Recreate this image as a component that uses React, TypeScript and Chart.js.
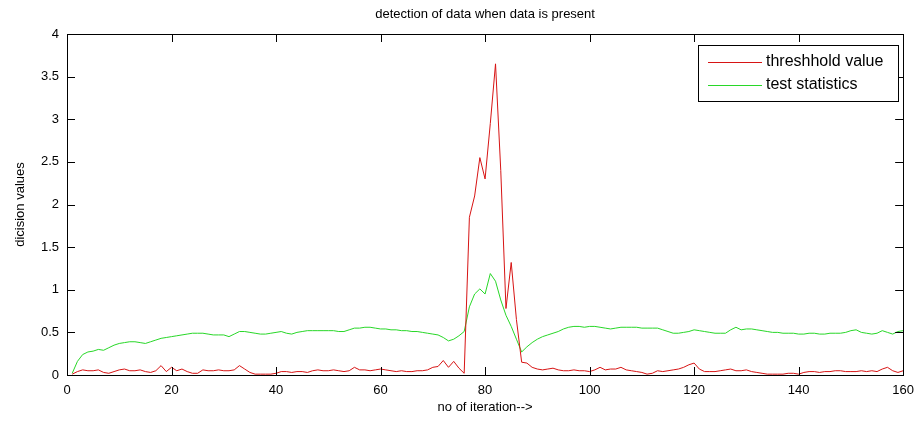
import React, { useEffect, useRef } from 'react';
import { Chart, registerables } from 'chart.js';

Chart.register(...registerables);

// ---- data ----
const iterations: number[] = Array.from({ length: 160 }, (_, k) => k + 1);

const thresholdValues: number[] = [
  0.01, 0.04, 0.06, 0.05, 0.05, 0.06, 0.03, 0.02, 0.04, 0.06,
  0.07, 0.05, 0.05, 0.06, 0.04, 0.03, 0.05, 0.11, 0.04, 0.09,
  0.05, 0.07, 0.04, 0.02, 0.02, 0.06, 0.05, 0.05, 0.06, 0.05,
  0.05, 0.06, 0.11, 0.07, 0.03, 0.01, 0.01, 0.01, 0.01, 0.02,
  0.04, 0.04, 0.03, 0.04, 0.04, 0.03, 0.05, 0.06, 0.05, 0.05,
  0.06, 0.05, 0.04, 0.05, 0.09, 0.06, 0.06, 0.05, 0.06, 0.07,
  0.06, 0.05, 0.04, 0.05, 0.04, 0.04, 0.05, 0.05, 0.06, 0.09,
  0.10, 0.17, 0.09, 0.16, 0.08, 0.02, 1.85, 2.10, 2.55, 2.30,
  2.95, 3.65, 2.40, 0.78, 1.32, 0.65, 0.15, 0.14, 0.09, 0.07,
  0.06, 0.07, 0.08, 0.06, 0.05, 0.05, 0.06, 0.05, 0.05, 0.04,
  0.06, 0.09, 0.06, 0.07, 0.07, 0.09, 0.06, 0.05, 0.04, 0.03,
  0.01, 0.02, 0.05, 0.04, 0.05, 0.06, 0.07, 0.09, 0.12, 0.14,
  0.07, 0.04, 0.04, 0.04, 0.05, 0.06, 0.07, 0.05, 0.05, 0.06,
  0.04, 0.03, 0.02, 0.01, 0.01, 0.01, 0.01, 0.02, 0.02, 0.01,
  0.03, 0.04, 0.04, 0.03, 0.04, 0.04, 0.05, 0.05, 0.04, 0.04,
  0.04, 0.05, 0.04, 0.05, 0.04, 0.07, 0.09, 0.05, 0.03, 0.05,
];

const testStatistics: number[] = [
  0.02, 0.16, 0.24, 0.27, 0.28, 0.30, 0.29, 0.32, 0.35, 0.37,
  0.38, 0.39, 0.39, 0.38, 0.37, 0.39, 0.41, 0.43, 0.44, 0.45,
  0.46, 0.47, 0.48, 0.49, 0.49, 0.49, 0.48, 0.47, 0.47, 0.47,
  0.45, 0.48, 0.51, 0.51, 0.50, 0.49, 0.48, 0.48, 0.49, 0.50,
  0.51, 0.49, 0.48, 0.50, 0.51, 0.52, 0.52, 0.52, 0.52, 0.52,
  0.52, 0.51, 0.51, 0.53, 0.55, 0.55, 0.56, 0.56, 0.55, 0.54,
  0.54, 0.53, 0.53, 0.52, 0.52, 0.51, 0.51, 0.50, 0.49, 0.48,
  0.47, 0.44, 0.40, 0.42, 0.46, 0.51, 0.80, 0.95, 1.01, 0.95,
  1.19, 1.10, 0.88, 0.70, 0.57, 0.42, 0.27, 0.33, 0.38, 0.42,
  0.45, 0.47, 0.49, 0.51, 0.54, 0.56, 0.57, 0.57, 0.56, 0.57,
  0.57, 0.56, 0.55, 0.54, 0.55, 0.56, 0.56, 0.56, 0.56, 0.55,
  0.55, 0.55, 0.55, 0.53, 0.51, 0.49, 0.49, 0.50, 0.51, 0.53,
  0.52, 0.51, 0.50, 0.49, 0.49, 0.49, 0.53, 0.56, 0.53, 0.54,
  0.54, 0.53, 0.52, 0.51, 0.50, 0.50, 0.49, 0.49, 0.49, 0.48,
  0.48, 0.49, 0.49, 0.48, 0.48, 0.49, 0.49, 0.49, 0.50, 0.52,
  0.53, 0.50, 0.49, 0.48, 0.49, 0.52, 0.50, 0.48, 0.51, 0.52,
];

const xTicks: number[] = [0, 20, 40, 60, 80, 100, 120, 140, 160];
const yTicks: number[] = [0, 0.5, 1, 1.5, 2, 2.5, 3, 3.5, 4];

const seriesNames: string[] = ['threshhold value', 'test statistics'];
const seriesColors: string[] = ['rgb(215,20,20)', 'rgb(40,215,40)'];

const chartTitle = 'detection of data when data is present';
const xAxisTitle = 'no of iteration-->';
const yAxisTitle = 'dicision values';

const FONT = 'Arial, "Liberation Sans", Helvetica, sans-serif';

const matlabAxes = {
  id: 'matlabAxes',
  afterDraw(chart: any) {
    const { ctx, chartArea: a, scales } = chart;
    ctx.save();
    // box
    ctx.strokeStyle = '#000';
    ctx.lineWidth = 1;
    ctx.strokeRect(Math.round(a.left) + 0.5, Math.round(a.top) + 0.5,
      Math.round(a.right - a.left), Math.round(a.bottom - a.top));
    // inward ticks on all four sides
    const L = 8;
    ctx.beginPath();
    for (const v of xTicks) {
      const px = Math.round(scales.x.getPixelForValue(v)) + 0.5;
      ctx.moveTo(px, a.bottom);
      ctx.lineTo(px, a.bottom - L);
      ctx.moveTo(px, a.top);
      ctx.lineTo(px, a.top + L);
    }
    for (const v of yTicks) {
      const py = Math.round(scales.y.getPixelForValue(v)) + 0.5;
      ctx.moveTo(a.left, py);
      ctx.lineTo(a.left + L, py);
      ctx.moveTo(a.right, py);
      ctx.lineTo(a.right - L, py);
    }
    ctx.stroke();

    // titles
    ctx.fillStyle = '#000';
    ctx.font = `13px ${FONT}`;
    ctx.textAlign = 'center';
    ctx.textBaseline = 'middle';
    const cx = (a.left + a.right) / 2;
    ctx.fillText(chartTitle, cx, 14);
    ctx.fillText(xAxisTitle, cx, 407);
    ctx.save();
    ctx.translate(20, (a.top + a.bottom) / 2);
    ctx.rotate(-Math.PI / 2);
    ctx.fillText(yAxisTitle, 0, 0);
    ctx.restore();

    // legend box
    const lx = 698, ly = 45, lw = 200, lh = 56;
    ctx.fillStyle = '#fff';
    ctx.fillRect(lx, ly, lw, lh);
    ctx.strokeStyle = '#000';
    ctx.strokeRect(lx + 0.5, ly + 0.5, lw, lh);
    ctx.font = `16px ${FONT}`;
    ctx.textAlign = 'left';
    const rows = [62, 85];
    seriesNames.forEach((name, i) => {
      ctx.strokeStyle = seriesColors[i];
      ctx.beginPath();
      ctx.moveTo(708, rows[i] + 0.5);
      ctx.lineTo(762, rows[i] + 0.5);
      ctx.stroke();
      ctx.fillStyle = '#000';
      ctx.fillText(name, 766, rows[i]);
    });
    ctx.restore();
  },
};

export default function App() {
  const ref = useRef<HTMLCanvasElement | null>(null);
  useEffect(() => {
    if (!ref.current) return;
    const chart = new Chart(ref.current, {
      type: 'line',
      data: {
        datasets: [
          {
            label: seriesNames[0],
            data: iterations.map((x, k) => ({ x, y: thresholdValues[k] })),
            borderColor: seriesColors[0],
            borderWidth: 1,
            pointRadius: 0,
            tension: 0,
            fill: false,
          },
          {
            label: seriesNames[1],
            data: iterations.map((x, k) => ({ x, y: testStatistics[k] })),
            borderColor: seriesColors[1],
            borderWidth: 1,
            pointRadius: 0,
            tension: 0,
            fill: false,
          },
        ],
      },
      options: {
        responsive: false,
        animation: false,
        devicePixelRatio: 1,
        layout: { padding: { left: 0, right: 16, top: 34, bottom: 0 } },
        plugins: {
          legend: { display: false },
          title: { display: false },
          tooltip: { enabled: false },
        },
        scales: {
          x: {
            type: 'linear',
            min: 0,
            max: 160,
            grid: { display: false, drawTicks: false },
            border: { display: false },
            afterBuildTicks: (s: any) => { s.ticks = xTicks.map((v) => ({ value: v })); },
            afterFit: (s: any) => { s.height = 47; },
            ticks: {
              padding: 8,
              color: '#000',
              font: { family: FONT, size: 13 },
              maxRotation: 0,
              callback: (v: any) => String(v),
            },
          },
          y: {
            type: 'linear',
            min: 0,
            max: 4,
            grid: { display: false, drawTicks: false },
            border: { display: false },
            afterBuildTicks: (s: any) => { s.ticks = yTicks.map((v) => ({ value: v })); },
            afterFit: (s: any) => { s.width = 67; },
            ticks: {
              padding: 8,
              color: '#000',
              font: { family: FONT, size: 13 },
              callback: (v: any) => String(v),
            },
          },
        },
      },
      plugins: [matlabAxes],
    });
    return () => chart.destroy();
  }, []);
  return (
    <div style={{ position: 'fixed', left: 0, top: 0, width: 922, height: 422, background: '#fff' }}>
      <canvas ref={ref} width={922} height={422} style={{ display: 'block' }} />
    </div>
  );
}
